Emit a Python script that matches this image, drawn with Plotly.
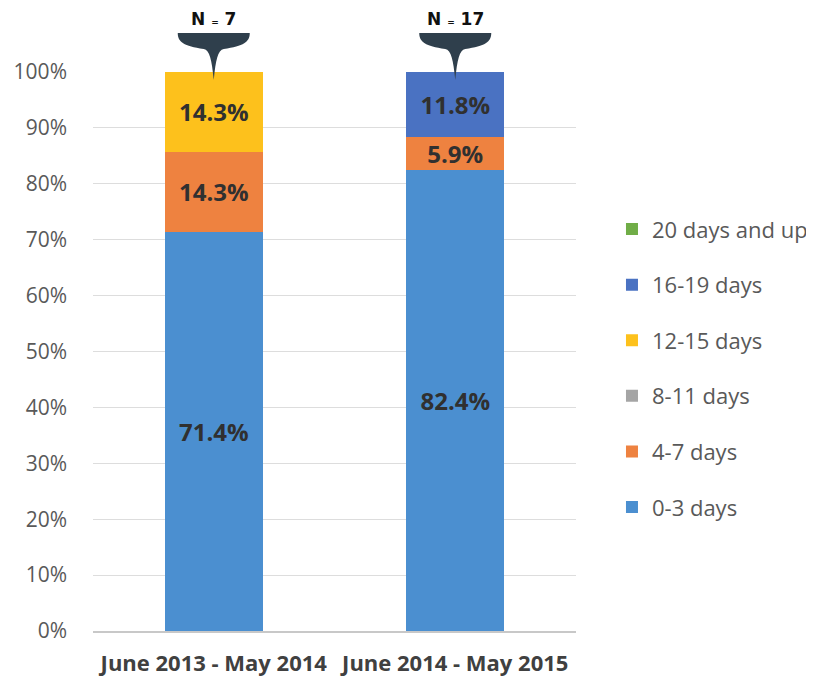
import plotly.graph_objects as go

categories = ["June 2013 - May 2014", "June 2014 - May 2015"]
series_names = ["0-3 days", "4-7 days", "8-11 days", "12-15 days", "16-19 days", "20 days and up"]
values_0_3 = [71.4, 82.4]
values_4_7 = [14.3, 5.9]
values_8_11 = [0.0, 0.0]
values_12_15 = [14.3, 0.0]
values_16_19 = [0.0, 11.8]
values_20_up = [0.0, 0.0]
n_counts = [7, 17]
y_ticks = list(range(0, 101, 10))
y_tick_labels = [f"{v}%" for v in y_ticks]

series_values = [values_0_3, values_4_7, values_8_11, values_12_15, values_16_19, values_20_up]
colors = ["#4B8FD0", "#EE8240", "#A5A5A5", "#FDC11C", "#4A72C2", "#70AD47"]

fig = go.Figure()
for i, (name, vals, col) in enumerate(zip(series_names, series_values, colors)):
    fig.add_trace(go.Bar(
        x=categories, y=vals, name=name,
        marker=dict(color=col, line=dict(width=0)),
        text=[f"{v:.1f}%" if v > 0 else "" for v in vals],
        textposition="inside", insidetextanchor="middle",
        textfont=dict(family="Open Sans", size=24, color="#303030", weight="bold"),
        width=0.405, legendgroup=f"g{i}", legendrank=len(series_names) - i,
        hoverinfo="skip",
    ))

# callout shapes (positions measured in reference pixels, relative to plot area)
plot_top_px, plot_bot_px = 72, 631
ph = plot_bot_px - plot_top_px
px_per_unit = 483 / 2.0

def py(ypx):
    return (plot_bot_px - ypx) / ph

def pxu(dx):
    return dx / px_per_unit

for idx, n in enumerate(n_counts):
    c = idx
    path = (f"M {c+pxu(-36)},{py(33)} L {c+pxu(36)},{py(33)} "
            f"C {c+pxu(36)},{py(42)} {c+pxu(30)},{py(46)} {c+pxu(10)},{py(49)} "
            f"C {c+pxu(4)},{py(50)} {c+pxu(2)},{py(60)} {c},{py(80)} "
            f"C {c+pxu(-2)},{py(60)} {c+pxu(-4)},{py(50)} {c+pxu(-10)},{py(49)} "
            f"C {c+pxu(-30)},{py(46)} {c+pxu(-36)},{py(42)} {c+pxu(-36)},{py(33)} Z")
    fig.add_shape(type="path", path=path, xref="x", yref="paper",
                  fillcolor="#2F3F4C", line=dict(width=0), layer="above")
    fig.add_annotation(x=categories[idx], y=py(19), xref="x", yref="paper",
                       text=f"N <span style='font-size:9px'>=</span> {n}",
                       showarrow=False, yanchor="middle",
                       font=dict(family="DejaVu Sans", size=17, color="#111111", weight="bold"))

fig.update_layout(
    barmode="stack",
    width=806, height=669,
    margin=dict(l=85, r=238, t=64, b=46, autoexpand=False),
    plot_bgcolor="white", paper_bgcolor="white",
    uniformtext=dict(minsize=24, mode="show"),
    legend=dict(
        traceorder="grouped", tracegroupgap=24,
        x=1.0745, xanchor="left", y=0.47, yanchor="middle",
        font=dict(family="Open Sans", size=22, color="#595959"),
        itemwidth=30,
    ),
    xaxis=dict(
        showline=True, linecolor="#C8C8C8", linewidth=1.5,
        tickfont=dict(family="Open Sans", size=22, color="#404040", weight="bold"),
        ticks="", ticklabelstandoff=12, automargin=False,
    ),
    yaxis=dict(
        range=[0, 100], tickvals=y_ticks, ticktext=y_tick_labels,
        showgrid=True, gridcolor="#DDDDDD", gridwidth=1,
        zeroline=False, showline=False,
        tickfont=dict(family="Open Sans", size=21, color="#595959"),
        ticklabelstandoff=25, automargin=False,
    ),
)

fig.write_html("out.html")
